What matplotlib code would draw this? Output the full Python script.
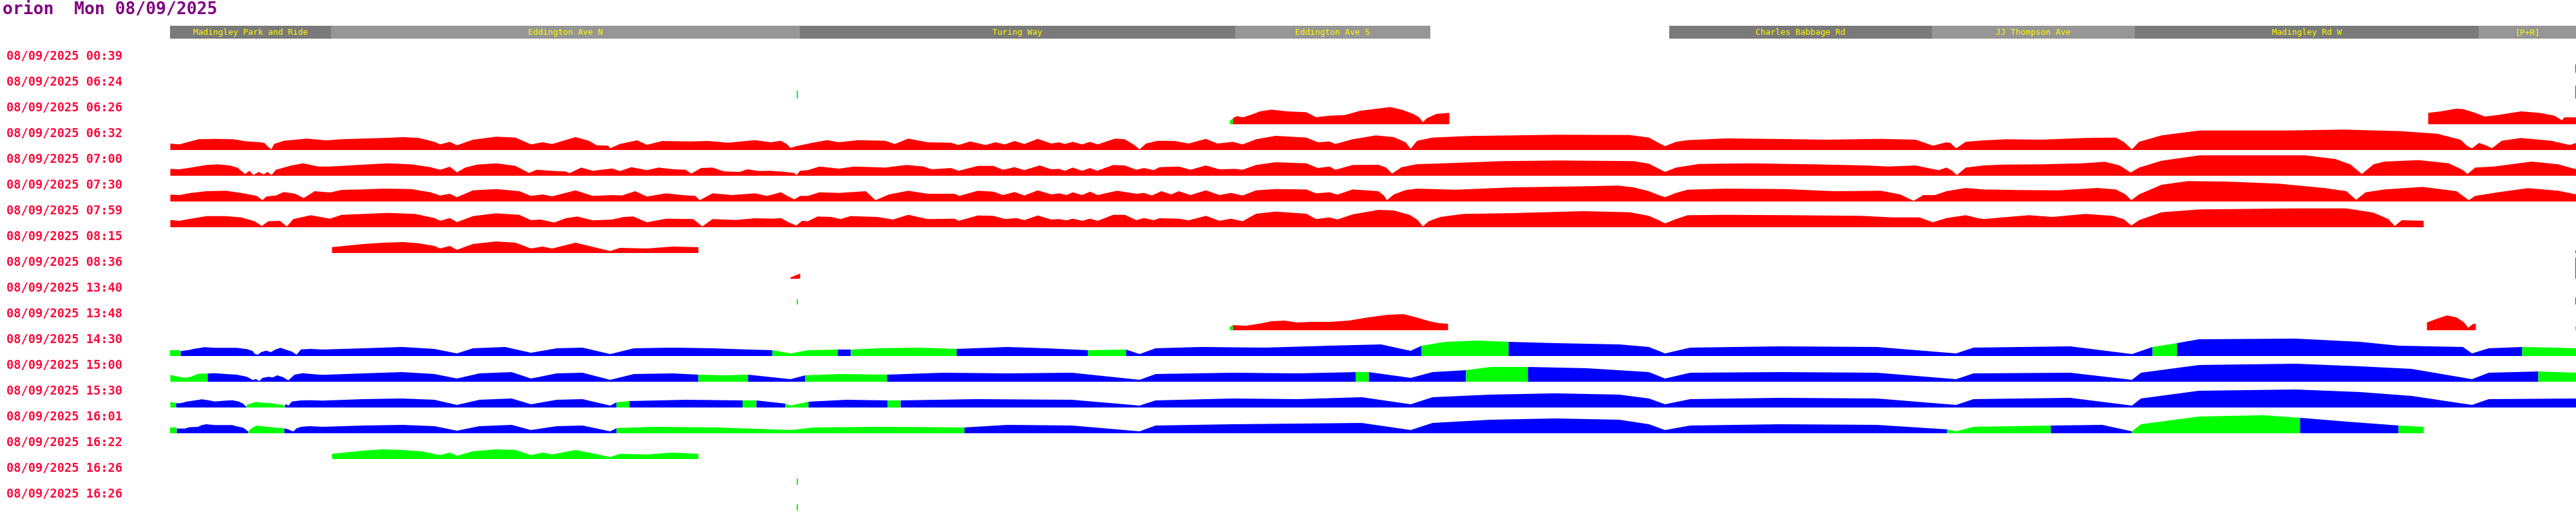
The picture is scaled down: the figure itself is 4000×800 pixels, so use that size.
import numpy as np
import matplotlib
matplotlib.use("Agg")
import matplotlib.pyplot as plt
from matplotlib.patches import Rectangle

title = "orion  Mon 08/09/2025"
run_date = "08/09/2025"
run_times = ["00:39", "06:24", "06:26", "06:32", "07:00", "07:30", "07:59", "08:15", "08:36",
             "13:40", "13:48", "14:30", "15:00", "15:30", "16:01", "16:22", "16:26", "16:26"]

stops = ["Madingley Park and Ride", "Eddington Ave N", "Turing Way", "Eddington Ave S",
         "Charles Babbage Rd", "JJ Thompson Ave", "Madingley Rd W", "[P+R]"]
stop_start = [0, 250, 978, 1654, 2328, 2736, 3051, 3585]
stop_end = [250, 978, 1654, 1957, 2736, 3051, 3585, 3736]

# (distance along route, speed) for each run, split where the colour changes
run_0039 = [("r", [(3735, 12.7), (3736, 12.7)])]

run_0624 = [
    ("g", [(973, 12), (975, 12)]),
    ("r", [(3735, 19.5), (3736, 19.5)]),
]

run_0626 = [
    ("g", [(1645, 5), (1650, 9.3)]),
    ("r", [(1650, 9.3), (1656, 12.7), (1665, 10.7), (1677, 14.3), (1692, 20), (1710, 22.7), (1734, 20),
           (1764, 18.7), (1779, 11), (1800, 13.3), (1824, 14.3), (1848, 21), (1875, 24.3), (1894, 26.7),
           (1912, 22.7), (1930, 16), (1939, 11), (1945, 3.3), (1951, 9.3), (1966, 16), (1986, 17.7)]),
    ("r", [(3506, 17.7), (3526, 20), (3550, 24.3), (3561, 23.3), (3579, 17.7), (3594, 12), (3614, 14.3),
           (3650, 20), (3679, 17.7), (3702, 13.3), (3714, 6), (3717, 10.7), (3736, 10.7)]),
]

run_0632 = [
    ("r", [(0, 10), (14, 8.7), (26, 12), (44, 16.7), (68, 17.3), (98, 16.7), (116, 13.7), (140, 12),
           (146, 11), (153, 4), (157, 1), (161, 9.3), (176, 14.3), (212, 17.7), (242, 15), (266, 16.7),
           (296, 17.7), (332, 18.7), (362, 20), (386, 18.7), (410, 12.7), (419, 8.7), (434, 12.7),
           (445, 7.3), (470, 16), (506, 20.7), (536, 19.3), (560, 8.7), (578, 12), (593, 9.3), (629, 20),
           (650, 14.3), (662, 7.3), (680, 6.7), (683, 2.7), (698, 9.3), (725, 15), (740, 8), (764, 14),
           (806, 13.3), (836, 14), (866, 11.3), (908, 15.3), (932, 12), (948, 14.3), (957, 9.3), (963, 3.3),
           (972, 6), (996, 11), (1020, 15.3), (1038, 12), (1068, 15.3), (1110, 14.3), (1125, 9.3),
           (1146, 17.7), (1176, 12), (1212, 11.3), (1224, 7.7), (1242, 13.3), (1266, 7.7), (1281, 12),
           (1296, 8.7), (1311, 14), (1326, 9.3), (1347, 17.3), (1368, 10), (1380, 12), (1389, 9.3),
           (1401, 12.7), (1416, 8.7), (1428, 12.7), (1440, 8.7), (1467, 17.7), (1482, 16.7), (1497, 7.7),
           (1505, 1), (1515, 10), (1533, 14.3), (1560, 14), (1581, 10), (1608, 17.3), (1626, 10),
           (1650, 12.7), (1665, 8.7), (1686, 16.7), (1716, 22), (1764, 19.3), (1782, 12), (1800, 13.3),
           (1809, 9.3), (1836, 16.7), (1872, 22.7), (1900, 20), (1918, 12), (1926, 2), (1936, 14.3),
           (1960, 19.3), (2014, 21.7), (2086, 22.7), (2152, 23.7), (2266, 23.3), (2296, 19.3), (2311, 11),
           (2321, 6), (2338, 12.7), (2356, 15.3), (2416, 18), (2506, 17), (2572, 16), (2656, 17.3),
           (2710, 16), (2725, 11), (2737, 6.7), (2758, 12), (2764, 11), (2773, 2.7), (2788, 12.7),
           (2816, 15), (2851, 16.7), (2904, 16), (2974, 18.7), (3021, 19.3), (3033, 12.7), (3046, 1),
           (3057, 12.7), (3092, 22.7), (3151, 30.3), (3286, 30.3), (3374, 31.7), (3462, 29.3), (3520, 25.3),
           (3556, 16), (3567, 6), (3574, 2.7), (3585, 11), (3597, 6.7), (3605, 2.7), (3620, 14.3),
           (3650, 18.7), (3697, 14.3), (3726, 7.7), (3736, 11)]),
]

run_0700 = [
    ("r", [(0, 10.7), (14, 10), (32, 12.7), (56, 16.7), (74, 17.7), (92, 16), (104, 12.7), (116, 2.7),
           (123, 7.7), (129, 1), (137, 6), (145, 2), (151, 6), (157, 1), (164, 9.3), (188, 16), (206, 19.3),
           (230, 14.3), (248, 14.3), (278, 16), (308, 17.7), (338, 19.3), (374, 17.7), (404, 13.3),
           (419, 9.3), (434, 14), (445, 5.3), (458, 12.7), (476, 17.3), (506, 19.3), (536, 15.3), (557, 4.3),
           (569, 9.3), (596, 7.3), (614, 6.7), (620, 4), (638, 12.7), (656, 7.7), (686, 11.3), (698, 7.3),
           (716, 13.3), (740, 8.7), (758, 12.7), (782, 10), (800, 9.3), (809, 3.3), (824, 12), (842, 12.7),
           (860, 6.7), (884, 6), (896, 10), (914, 7.3), (932, 7.7), (954, 6), (969, 4.3), (972, 1),
           (978, 7.7), (990, 8.7), (1008, 14.3), (1038, 11), (1062, 14.3), (1110, 12.7), (1143, 16.7),
           (1170, 14.3), (1182, 10), (1212, 12), (1224, 7.7), (1254, 15.3), (1278, 15.3), (1293, 9.3),
           (1311, 13.3), (1326, 8.7), (1350, 16), (1368, 10), (1380, 10.7), (1389, 7.7), (1401, 12.7),
           (1416, 7.7), (1428, 12), (1439, 7.7), (1464, 16.7), (1482, 16), (1500, 9.3), (1512, 12),
           (1527, 8.7), (1536, 13.3), (1566, 14.3), (1584, 9.3), (1608, 16), (1629, 10), (1653, 10.7),
           (1665, 9.3), (1686, 16.7), (1716, 21), (1764, 19.3), (1782, 12), (1800, 14.3), (1809, 9.3),
           (1836, 16.7), (1876, 17), (1888, 12.7), (1897, 3.3), (1912, 13.3), (1936, 18), (1978, 19.3),
           (2068, 22.7), (2158, 23.7), (2272, 22.7), (2296, 18.7), (2311, 11), (2321, 6), (2338, 12.7),
           (2374, 18.3), (2452, 19.3), (2554, 17.7), (2632, 16), (2668, 14.3), (2710, 16), (2734, 11),
           (2746, 8.7), (2758, 12.7), (2767, 7.7), (2774, 1), (2788, 12.7), (2816, 16), (2845, 17.3),
           (2904, 17.7), (2969, 19.3), (3004, 21.7), (3027, 16), (3044, 5), (3057, 12.7), (3092, 23.3),
           (3151, 31.7), (3315, 31.7), (3362, 26), (3385, 17.7), (3403, 2.7), (3421, 17.7), (3438, 22),
           (3491, 24.3), (3538, 19.3), (3559, 9.3), (3567, 2.7), (3579, 12.7), (3608, 14.3), (3667, 22),
           (3708, 17.7), (3736, 10)]),
]

run_0730 = [
    ("r", [(0, 10.7), (14, 10), (32, 13.3), (56, 16), (86, 16.7), (110, 13.3), (134, 8.7), (143, 2),
           (149, 7.7), (164, 9.3), (176, 14.7), (194, 12), (207, 5.3), (224, 16), (248, 14), (266, 18),
           (296, 18.7), (332, 20), (374, 19.3), (404, 14.3), (419, 9.3), (434, 12), (445, 6.7), (470, 17.3),
           (506, 19.3), (542, 16), (560, 8.7), (578, 11), (593, 8), (629, 17.3), (656, 8.7), (686, 10),
           (701, 9.3), (722, 16), (740, 7.7), (770, 12.7), (794, 10), (815, 8.7), (822, 2), (842, 12.7),
           (872, 10), (908, 12.7), (926, 8.7), (936, 11), (948, 14.3), (960, 7.7), (969, 3.3), (978, 8.7),
           (990, 8.7), (1008, 14.3), (1038, 13.3), (1080, 16), (1095, 2), (1116, 11), (1146, 16.7),
           (1176, 12), (1218, 12), (1225, 8.7), (1254, 16.7), (1278, 15.3), (1293, 10), (1311, 14.7),
           (1326, 9.3), (1347, 17.3), (1368, 11), (1380, 12.7), (1392, 10), (1401, 14.3), (1416, 10),
           (1428, 15.3), (1440, 10), (1470, 16.7), (1500, 12), (1512, 13.3), (1524, 9.3), (1539, 16),
           (1554, 11), (1566, 16), (1584, 10), (1608, 17.3), (1629, 10), (1647, 13.3), (1665, 9.3),
           (1686, 17.3), (1716, 19.3), (1764, 18.7), (1779, 12.7), (1800, 14.3), (1812, 10.7), (1836, 18.7),
           (1876, 16), (1885, 8.7), (1889, 2), (1900, 11), (1918, 17.7), (1936, 20), (1996, 18.3),
           (2086, 22), (2176, 23.3), (2248, 24.7), (2272, 22), (2296, 16), (2311, 10), (2321, 6.7),
           (2338, 13.3), (2356, 18.3), (2416, 20), (2506, 19.3), (2584, 16), (2656, 16.7), (2686, 11),
           (2707, 1), (2722, 10), (2740, 10), (2758, 16), (2788, 21), (2816, 18.7), (2875, 17.7),
           (2933, 17.3), (2992, 21), (3021, 18.7), (3036, 11), (3045, 2), (3057, 11), (3092, 26),
           (3133, 31.7), (3192, 31), (3274, 27.7), (3344, 21), (3379, 16), (3394, 2.7), (3409, 14.3),
           (3438, 18.7), (3497, 22.7), (3550, 16), (3569, 2), (3579, 8.7), (3614, 14.3), (3661, 20.7),
           (3708, 16.7), (3736, 11)]),
]

run_0759 = [
    ("r", [(0, 11.3), (14, 10), (32, 13.3), (56, 17.3), (86, 17.3), (110, 15.3), (131, 9.3), (142, 2),
           (152, 9.3), (170, 10), (181, 1.3), (191, 12.7), (218, 18.7), (248, 13.3), (266, 19.3), (308, 21),
           (338, 22.3), (380, 20.7), (410, 14.3), (419, 10), (434, 14.3), (445, 8), (470, 17.3), (506, 21.7),
           (542, 19.3), (560, 11), (575, 12), (596, 7.3), (614, 14), (632, 16.7), (656, 10.7), (686, 12),
           (704, 16), (719, 16.7), (740, 7.7), (770, 13.3), (812, 12.7), (826, 1.3), (842, 12.7),
           (878, 11.3), (908, 14), (936, 13.3), (948, 14.3), (960, 7.7), (972, 2.7), (981, 10), (990, 9.3),
           (1005, 16.7), (1026, 16), (1041, 12.7), (1056, 17.3), (1098, 16), (1122, 12), (1146, 19.3),
           (1176, 12.7), (1218, 13.3), (1224, 10), (1254, 18.3), (1278, 17.7), (1296, 12.7), (1314, 14.3),
           (1326, 11), (1347, 18.3), (1368, 12), (1380, 12.7), (1392, 10.7), (1401, 13.3), (1416, 10),
           (1428, 13.3), (1440, 10), (1464, 19.3), (1482, 19.3), (1500, 11), (1512, 14.3), (1527, 11),
           (1536, 14), (1566, 13.3), (1581, 10.7), (1608, 17.7), (1629, 10), (1647, 13.3), (1665, 9.3),
           (1686, 21), (1716, 24.3), (1764, 21), (1779, 12.7), (1800, 15.3), (1812, 12), (1836, 20),
           (1876, 27), (1900, 26), (1924, 19.3), (1936, 12), (1945, 1.3), (1954, 9.3), (1972, 16),
           (2008, 20.7), (2086, 22), (2194, 25), (2266, 23.3), (2296, 17.7), (2311, 11), (2321, 6),
           (2338, 12.7), (2356, 18.7), (2416, 19.3), (2518, 18.7), (2626, 17.7), (2674, 15.3), (2716, 15.3),
           (2737, 7.7), (2758, 14.3), (2788, 18.7), (2806, 14.3), (2816, 12.7), (2845, 15.3), (2886, 18.7),
           (2922, 16), (2974, 20.7), (3016, 17.7), (3033, 12.7), (3045, 2.7), (3057, 11), (3092, 23.3),
           (3151, 27.7), (3297, 29.3), (3379, 29.3), (3421, 22.7), (3444, 12.7), (3454, 2), (3465, 11),
           (3499, 10)]),
]

run_0815 = [
    ("r", [(251, 9), (270, 11), (300, 14), (332, 16), (362, 17), (386, 15), (410, 11), (419, 7), (434, 11),
           (445, 5), (470, 14), (506, 18), (536, 16), (560, 7), (578, 10), (593, 7), (629, 16), (650, 11),
           (683, 3), (698, 8), (740, 7), (780, 10), (820, 9)]),
    ("r", [(3735, 4), (3736, 4)]),
]

run_0836 = [
    ("r", [(963, 2), (978, 8)]),
    ("r", [(3735, 32.5), (3736, 32.5)]),
]

run_1340 = [
    ("g", [(973, 8), (975, 8)]),
    ("r", [(3735, 10.5), (3736, 10.5)]),
]

run_1348 = [
    ("g", [(1645, 5), (1650, 8)]),
    ("r", [(1650, 8), (1670, 7), (1690, 10), (1710, 14), (1730, 15), (1750, 12), (1770, 13), (1800, 13),
           (1830, 15), (1860, 20), (1890, 24), (1915, 25), (1935, 20), (1955, 14), (1970, 11), (1984, 10)]),
    ("r", [(3504, 12), (3520, 18), (3535, 23), (3550, 20), (3562, 12), (3568, 4), (3576, 10), (3580, 10)]),
    ("g", [(3735, 6), (3736, 6)]),
]

run_1430 = [
    ("g", [(0, 8.7), (16, 8.7)]),
    ("b", [(16, 7.7), (29, 9.3), (36, 11), (53, 13.7), (69, 12.7), (103, 12.7), (119, 10.7), (128, 7.7),
           (131, 3.3), (136, 2), (141, 6), (149, 8.3), (156, 6), (163, 10), (171, 12.7), (183, 8.7),
           (189, 6.7), (196, 2), (203, 10.3), (219, 11), (236, 10), (300, 12), (360, 14), (410, 11),
           (445, 4), (470, 12), (520, 14), (560, 5), (600, 12), (640, 13), (683, 3), (720, 12), (780, 13),
           (840, 12), (900, 10), (935, 9)]),
    ("g", [(935, 9), (963, 4), (990, 9), (1037, 10)]),
    ("b", [(1037, 10), (1057, 10)]),
    ("g", [(1057, 10), (1100, 12), (1160, 13), (1221, 11)]),
    ("b", [(1221, 11), (1300, 14), (1360, 12), (1425, 9)]),
    ("g", [(1425, 9), (1484, 10)]),
    ("b", [(1484, 10), (1505, 3), (1530, 12), (1600, 14), (1700, 13), (1800, 16), (1880, 18), (1926, 8),
           (1943, 16)]),
    ("g", [(1943, 16), (1980, 22), (2030, 24), (2078, 22)]),
    ("b", [(2078, 22), (2150, 20), (2250, 18), (2296, 14), (2321, 4), (2360, 13), (2500, 15), (2650, 14),
           (2773, 4), (2800, 13), (2950, 15), (3046, 3), (3078, 14)]),
    ("g", [(3078, 14), (3116, 20)]),
    ("b", [(3116, 20), (3150, 26), (3300, 27), (3400, 22), (3460, 16), (3560, 14), (3574, 4), (3600, 12),
           (3652, 14)]),
    ("g", [(3652, 14), (3700, 13), (3736, 12)]),
]

run_1500 = [
    ("g", [(0, 10.7), (9, 8.7), (22, 6), (32, 7.7), (42, 12), (49, 12.7), (58, 12.7)]),
    ("b", [(58, 12.7), (69, 13.3), (86, 12), (103, 11), (119, 7.7), (128, 2.7), (133, 4.3), (138, 1),
           (143, 6), (153, 7.7), (159, 6.7), (166, 10), (176, 6.7), (183, 2), (193, 11), (206, 13.3),
           (219, 12), (236, 10.7), (300, 13), (360, 15), (410, 12), (445, 5), (480, 13), (530, 15), (560, 5),
           (600, 13), (640, 14), (683, 3), (720, 12), (780, 13), (820, 11)]),
    ("g", [(820, 11), (860, 10), (897, 11)]),
    ("b", [(897, 11), (963, 4), (986, 10)]),
    ("g", [(986, 10), (1040, 12), (1113, 11)]),
    ("b", [(1113, 11), (1200, 14), (1300, 13), (1400, 14), (1505, 3), (1530, 12), (1650, 14), (1750, 13),
           (1841, 15)]),
    ("g", [(1841, 15), (1861, 15)]),
    ("b", [(1861, 15), (1926, 6), (1960, 15), (2012, 18)]),
    ("g", [(2012, 18), (2050, 23), (2108, 23)]),
    ("b", [(2108, 23), (2200, 21), (2296, 15), (2321, 5), (2360, 14), (2500, 15), (2650, 14), (2773, 4),
           (2800, 13), (2950, 14), (3046, 3), (3060, 14), (3150, 26), (3300, 28), (3400, 24), (3480, 20),
           (3574, 4), (3600, 14), (3677, 16)]),
    ("g", [(3677, 16), (3736, 14)]),
]

run_1530 = [
    ("g", [(0, 8.7), (9, 6.7)]),
    ("b", [(9, 6.7), (16, 6.7), (26, 9.3), (36, 10.7), (49, 12.7), (59, 11.3), (69, 9.3), (86, 10.7),
           (96, 11.3), (106, 9.3), (113, 6), (118, 1)]),
    ("g", [(118, 1), (119, 4.3), (133, 8.7), (143, 7.3), (156, 6.7), (166, 5.3), (178, 3.3)]),
    ("b", [(178, 3.3), (180, 5.3), (183, 2.7), (189, 9.3), (203, 11), (219, 11.3), (236, 10.7), (300, 13),
           (360, 14), (410, 12), (445, 4), (480, 12), (530, 14), (560, 5), (600, 12), (640, 13), (683, 3),
           (693, 8)]),
    ("g", [(693, 8), (713, 10)]),
    ("b", [(713, 10), (800, 12), (889, 11)]),
    ("g", [(889, 11), (910, 11)]),
    ("b", [(910, 11), (955, 6)]),
    ("g", [(955, 6), (963, 3), (991, 9)]),
    ("b", [(991, 9), (1050, 12), (1114, 11)]),
    ("g", [(1114, 11), (1134, 11)]),
    ("b", [(1134, 11), (1250, 13), (1400, 12), (1505, 3), (1530, 11), (1650, 14), (1750, 13), (1850, 16),
           (1926, 5), (1960, 16), (2050, 20), (2150, 22), (2250, 20), (2296, 14), (2321, 5), (2360, 13),
           (2500, 15), (2650, 14), (2773, 4), (2800, 13), (2950, 15), (3046, 3), (3060, 14), (3150, 26),
           (3300, 28), (3400, 24), (3480, 18), (3574, 4), (3600, 13), (3736, 14)]),
]

run_1601 = [
    ("g", [(0, 8.7), (10, 8.7)]),
    ("b", [(10, 7.3), (23, 7.3), (29, 9.3), (43, 10), (49, 12.7), (56, 14), (69, 12.7), (96, 12.7),
           (103, 10.7), (113, 8.7), (121, 2.7)]),
    ("g", [(121, 2.7), (126, 7.7), (134, 12), (143, 10.7), (163, 8.7), (177, 7.7)]),
    ("b", [(177, 7.7), (183, 6), (191, 2.7), (196, 7.7), (203, 10), (216, 11), (236, 10), (300, 12),
           (360, 13), (410, 11), (445, 4), (480, 11), (530, 13), (560, 5), (600, 11), (640, 12), (683, 3),
           (693, 8)]),
    ("g", [(693, 8), (750, 10), (850, 9), (963, 5), (1000, 9), (1100, 10), (1233, 9)]),
    ("b", [(1233, 9), (1300, 13), (1400, 12), (1505, 3), (1530, 12), (1650, 14), (1750, 15), (1850, 16),
           (1926, 5), (1960, 16), (2050, 21), (2150, 23), (2250, 21), (2296, 14), (2321, 5), (2360, 12),
           (2500, 14), (2650, 13), (2759, 6)]),
    ("g", [(2759, 6), (2773, 3), (2800, 10), (2920, 12)]),
    ("b", [(2920, 12), (3000, 13), (3046, 3)]),
    ("g", [(3046, 3), (3060, 14), (3150, 26), (3250, 28), (3307, 24)]),
    ("b", [(3307, 24), (3380, 18), (3460, 12)]),
    ("g", [(3460, 12), (3499, 10)]),
]

run_1622 = [
    ("g", [(251, 8), (270, 10), (300, 13), (330, 15), (360, 14), (390, 12), (419, 6), (434, 10), (445, 5),
           (470, 12), (506, 15), (536, 14), (560, 6), (578, 10), (593, 7), (629, 14), (650, 10), (683, 3),
           (698, 8), (740, 7), (780, 10), (820, 8)]),
]

run_1626a = [("g", [(973, 10), (975, 10)])]
run_1626b = [("g", [(973, 10), (975, 10)])]

runs = {0: run_0039, 1: run_0624, 2: run_0626, 3: run_0632, 4: run_0700, 5: run_0730, 6: run_0759,
        7: run_0815, 8: run_0836, 9: run_1340, 10: run_1348, 11: run_1430, 12: run_1500,
        13: run_1530, 14: run_1601, 15: run_1622, 16: run_1626a, 17: run_1626b}

colours = {"r": "#ff0000", "b": "#0000ff", "g": "#00ff00"}

left = 264          # x pixel where the route starts
row0 = 87.5         # centre of first row label
step = 40
base_off = 25

fig = plt.figure(figsize=(40, 8), dpi=100)
ax = fig.add_axes([0, 0, 1, 1])
ax.set_xlim(0, 4000)
ax.set_ylim(800, 0)
ax.axis("off")

ax.text(4, 15, title, color="#800080", fontsize=19, fontweight="bold",
        family="DejaVu Sans Mono", va="center", ha="left")

# stop bar
for i, name in enumerate(stops):
    c = "#7a7a7a" if i % 2 == 0 else "#969696"
    ax.add_patch(Rectangle((left + stop_start[i], 40), stop_end[i] - stop_start[i], 20,
                           facecolor=c, edgecolor="none"))
    ax.text(left + (stop_start[i] + stop_end[i]) / 2, 50.5, name, color="#ffff00", fontsize=9.3,
            family="DejaVu Sans Mono", ha="center", va="center")

for i, t in enumerate(run_times):
    y = row0 + step * i
    ax.text(10, y, run_date + " " + t, color="#ff0a3c", fontsize=13.5, fontweight="bold",
            family="DejaVu Sans Mono", va="center", ha="left")
    if i not in runs:
        continue
    base = y + base_off
    for col, pts in runs[i]:
        p = np.array(pts, dtype=float)
        ax.fill_between(left + p[:, 0], base, base - p[:, 1], color=colours[col], lw=0)

fig.savefig("out.png", dpi=100)
